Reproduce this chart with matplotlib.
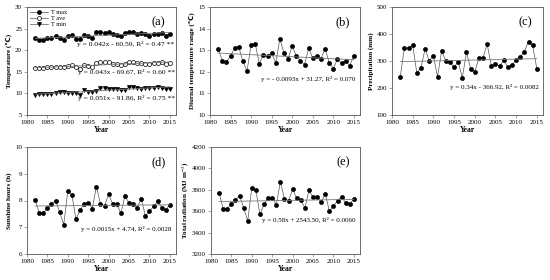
import numpy as np
import matplotlib
matplotlib.use('Agg')
import matplotlib.pyplot as plt

plt.rcParams['font.family'] = ['Liberation Serif', 'DejaVu Sans']
plt.rcParams['font.size'] = 5
plt.rcParams['mathtext.fontset'] = 'stix'

years = np.arange(1982, 2016)

# Temperature (a)
t_max = [22.8, 22.4, 22.4, 22.8, 22.9, 23.2, 22.8, 22.4, 23.3, 23.5, 22.6, 22.5,
         23.5, 23.3, 22.9, 24.2, 24.2, 23.9, 24.2, 23.8, 23.6, 23.2, 23.9, 24.1,
         24.1, 23.8, 24.0, 23.7, 23.4, 23.8, 23.8, 24.0, 23.4, 23.8]
t_ave = [15.9, 15.8, 15.8, 16.0, 16.1, 16.2, 16.1, 16.0, 16.3, 16.5, 16.0, 15.6,
         16.6, 16.4, 16.1, 17.1, 17.2, 17.2, 17.2, 16.8, 16.8, 16.5, 16.8, 17.3,
         17.3, 17.0, 17.0, 16.9, 16.8, 17.0, 17.0, 17.2, 16.9, 17.0]
t_min = [9.7, 9.8, 9.8, 9.9, 9.8, 10.1, 10.3, 10.3, 10.0, 10.2, 10.1, 9.6,
         10.7, 10.4, 10.3, 10.6, 11.3, 11.2, 11.0, 11.0, 11.0, 10.7, 10.8, 11.5,
         11.4, 11.2, 11.1, 11.3, 11.2, 11.3, 11.5, 11.3, 11.0, 11.0]

# Diurnal temperature range (b)
dtr = [13.05, 12.52, 12.45, 12.75, 13.1, 13.15, 12.48, 12.03, 13.25, 13.3, 12.38, 12.8,
       12.75, 12.85, 12.42, 13.52, 12.87, 12.6, 13.2, 12.73, 12.52, 12.33, 13.1, 12.62,
       12.72, 12.6, 13.07, 12.43, 12.15, 12.58, 12.4, 12.5, 12.28, 12.75]

# Precipitation (c)
precip = [242, 348, 348, 360, 255, 275, 345, 300, 320, 242, 337, 300,
          298, 277, 297, 238, 333, 272, 258, 312, 312, 362, 283, 290,
          282, 302, 277, 285, 303, 315, 335, 372, 358, 272]

# Sunshine hours (d)
sunshine = [8.03, 7.53, 7.53, 7.72, 7.88, 8.0, 7.57, 7.1, 8.35, 8.2, 7.3, 7.65,
            7.87, 7.92, 7.7, 8.52, 7.87, 7.8, 8.23, 7.87, 7.87, 7.52, 8.18, 7.9,
            7.88, 7.73, 8.06, 7.43, 7.6, 7.78, 7.97, 7.73, 7.65, 7.85]

# Total radiation (e)
radiation = [3770, 3620, 3625, 3665, 3705, 3745, 3630, 3510, 3820, 3795, 3570, 3665,
             3725, 3725, 3660, 3875, 3715, 3700, 3805, 3720, 3705, 3630, 3795, 3730,
             3730, 3685, 3765, 3600, 3645, 3700, 3735, 3675, 3665, 3715]

fig = plt.figure(figsize=(5.5, 2.8), dpi=100)

W, H = 550.0, 280.0
def make_ax(left, top, right, bottom):
    return fig.add_axes([left / W, 1 - bottom / H, (right - left) / W, (bottom - top) / H])

ax_a = make_ax(27, 7, 176, 115)
ax_b = make_ax(210, 7, 360, 115)
ax_c = make_ax(392, 7, 543, 115)
ax_d = make_ax(27, 147, 176, 254)
ax_e = make_ax(211, 147, 360, 254)


def style(ax, ylim, yticks, ylabel, letter, lpad=2):
    ax.set_xlim(1980, 2016.5)
    ax.set_xticks(np.arange(1980, 2016, 5))
    ax.set_ylim(*ylim)
    ax.set_yticks(yticks)
    ax.set_xlabel('Year', fontweight='bold', fontsize=5.5, labelpad=1)
    ax.set_ylabel(ylabel, fontweight='bold', fontsize=5, labelpad=lpad)
    ax.tick_params(labelsize=5, length=2, width=0.5, pad=1.5, color='gray')
    for s in ax.spines.values():
        s.set_linewidth(0.6)
        s.set_color('#555555')
    ax.text(0.93, 0.86, letter, transform=ax.transAxes, ha='right', va='center', fontsize=9)


def trend(ax, y):
    k, b = np.polyfit(years, y, 1)
    ax.plot(years, k * years + b, color='#777777', lw=0.6)


def series(ax, y, marker='o', mfc='black', label=None):
    ax.plot(years, y, color='#555555', lw=0.5, marker=marker, ms=2.9,
            mfc=mfc, mec='black', mew=0.5, label=label)


def eq(ax, yv, s, x=0.97, fs=5):
    ax.text(x, yv, s, transform=ax.get_yaxis_transform(), ha='right', va='center', fontsize=fs)


# (a)
series(ax_a, t_max, 'o', 'black', 'T max')
series(ax_a, t_ave, 'o', 'white', 'T ave')
series(ax_a, t_min, 'v', 'black', 'T min')
trend(ax_a, t_max)
trend(ax_a, t_ave)
trend(ax_a, t_min)
style(ax_a, (5, 30), np.arange(5, 31, 5), 'Temperature (\u2103)', '(a)')
ax_a.legend(loc='upper left', frameon=False, fontsize=4.5, handlelength=2.8,
            borderaxespad=0.1, labelspacing=0.1, handletextpad=0.6)
eq(ax_a, 21.4, 'y = 0.042x - 60.59, R\u00b2 = 0.47 **', 0.99, 5.4)
eq(ax_a, 15.0, 'y = 0.043x - 69.67, R\u00b2 = 0.60 **', 0.99, 5.4)
eq(ax_a, 8.9, 'y = 0.051x - 91.86, R\u00b2 = 0.75 **', 0.99, 5.4)

# (b)
series(ax_b, dtr)
trend(ax_b, dtr)
style(ax_b, (10, 15), np.arange(10, 16, 1), 'Diurnal temperature range (\u2103)', '(b)')
eq(ax_b, 11.65, 'y = - 0.0093x + 31.27, R\u00b2 = 0.070')

# (c)
series(ax_c, precip)
trend(ax_c, precip)
style(ax_c, (100, 500), np.arange(100, 501, 100), 'Precipitation (mm)', '(c)')
eq(ax_c, 204, 'y = 0.34x - 366.92, R\u00b2 = 0.0082')

# (d)
series(ax_d, sunshine)
trend(ax_d, sunshine)
style(ax_d, (6, 10), np.arange(6, 11, 1), 'Sunshine hours (h)', '(d)')
eq(ax_d, 6.94, 'y = 0.0015x + 4.74, R\u00b2 = 0.0028')

# (e)
series(ax_e, radiation)
trend(ax_e, radiation)
style(ax_e, (3200, 4200), np.arange(3200, 4201, 200), 'Total radiation (MJ m$^{-2}$)', '(e)', lpad=1)
eq(ax_e, 3519, 'y = 0.58x + 2543.50, R\u00b2 = 0.0060')

fig.savefig('out.png', dpi=100)
